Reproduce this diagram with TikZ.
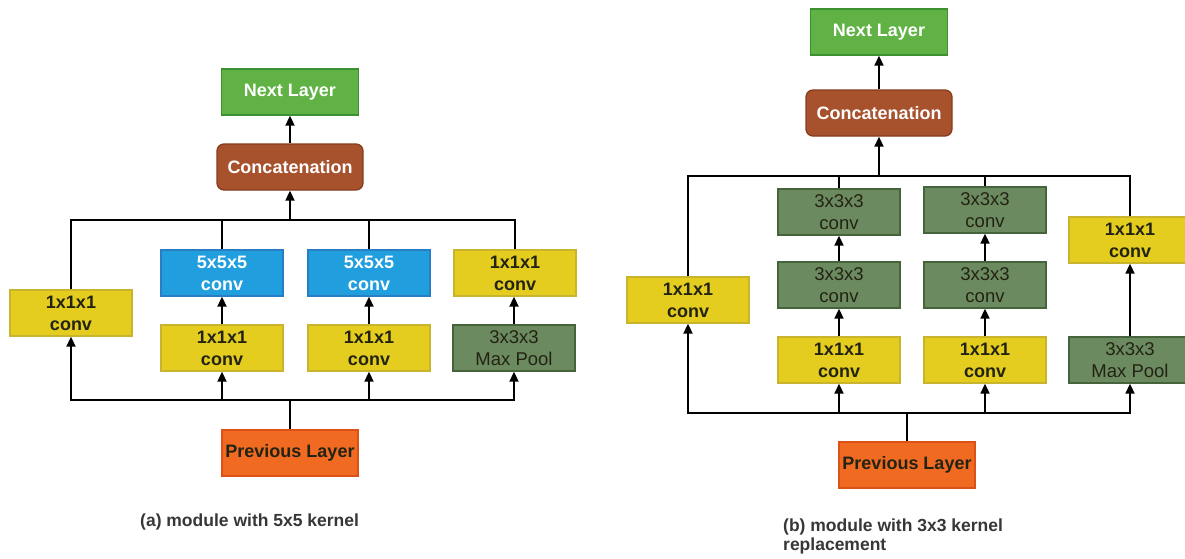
\documentclass[tikz,border=0pt]{standalone}
\usepackage{fontspec}
\setmainfont{Liberation Sans}
\usetikzlibrary{arrows.meta}
\definecolor{yelF}{RGB}{228,205,30}
\definecolor{yelD}{RGB}{200,180,45}
\definecolor{bluF}{RGB}{32,158,222}
\definecolor{bluD}{RGB}{40,125,195}
\definecolor{dgrF}{RGB}{108,138,95}
\definecolor{dgrD}{RGB}{70,100,60}
\definecolor{ngrF}{RGB}{96,178,68}
\definecolor{ngrD}{RGB}{62,145,50}
\definecolor{brnF}{RGB}{168,82,45}
\definecolor{brnD}{RGB}{135,60,30}
\definecolor{orgF}{RGB}{240,106,34}
\definecolor{orgD}{RGB}{220,82,22}
\definecolor{txtD}{RGB}{35,35,20}
\definecolor{capT}{RGB}{55,55,55}
\begin{document}
\begin{tikzpicture}[x=1pt,y=-1pt,
  box/.style={draw, line width=1.3pt, minimum width=122pt, minimum height=46pt, inner sep=0pt, align=center,
    font=\fontsize{18}{22}\selectfont\bfseries},
  yel/.style={box, fill=yelF, draw=yelD, text=txtD},
  blu/.style={box, fill=bluF, draw=bluD, text=white},
  dgr/.style={box, fill=dgrF, draw=dgrD, text=txtD, font=\fontsize{18.5}{22}\selectfont},
  nxt/.style={box, fill=ngrF, draw=ngrD, text=white, minimum width=137pt},
  cat/.style={box, fill=brnF, draw=brnD, text=white, minimum width=146pt, rounded corners=7pt},
  prv/.style={box, fill=orgF, draw=orgD, text=txtD, minimum width=136pt},
  arr/.style={line width=1.8pt, -{Triangle[length=10pt,width=9pt]}},
  wire/.style={line width=1.8pt},
  captxt/.style={text=capT, font=\fontsize{17.5}{19}\selectfont\bfseries, align=left, inner sep=0pt}
]
\clip (0,0) rectangle (1185,558);
\fill[white] (0,0) rectangle (1185,558);

% ---------- (a) ----------
\node[nxt] (nextA) at (290,92) {Next Layer};
\node[cat] (catA) at (290,167) {Concatenation};
\node[yel] (leftA) at (71,313) {1x1x1\\conv};
\node[blu] (fiveA) at (222,273) {5x5x5\\conv};
\node[blu] (fiveB) at (369,273) {5x5x5\\conv};
\node[yel] (oneR) at (515,273) {1x1x1\\conv};
\node[yel] (oneA) at (222,348) {1x1x1\\conv};
\node[yel] (oneB) at (369,348) {1x1x1\\conv};
\node[dgr] (poolA) at (514,348) {3x3x3\\Max Pool};
\node[prv] (prevA) at (290,453) {Previous Layer};
\coordinate (botA) at (290,400);
\coordinate (topA) at (290,220);

\draw[wire] (prevA.north) -- (botA);
\draw[arr] (botA) -| (leftA.south);
\draw[arr] (botA) -| (oneA.south);
\draw[arr] (botA) -| (oneB.south);
\draw[arr] (botA) -| (poolA.south);
\draw[arr] (oneA.north) -- (fiveA.south);
\draw[arr] (oneB.north) -- (fiveB.south);
\draw[arr] (poolA.north) -- (poolA.north |- oneR.south);
\draw[wire] (leftA.north) |- (topA);
\draw[wire] (fiveA.north) |- (topA);
\draw[wire] (fiveB.north) |- (topA);
\draw[wire] (oneR.north) |- (topA);
\draw[arr] (topA) -- (catA.south);
\draw[arr] (catA.north) -- (nextA.south);

\node[captxt, anchor=base west] (capA) at (140,526) {(a) module with 5x5 kernel};

% ---------- (b) ----------
\node[nxt] (nextB) at (879,32) {Next Layer};
\node[cat] (catB) at (879,113) {Concatenation};
\node[yel] (leftB) at (688,300) {1x1x1\\conv};
\node[dgr] (c1t) at (839,212) {3x3x3\\conv};
\node[dgr] (c1m) at (839,285) {3x3x3\\conv};
\node[yel] (c1b) at (839,360) {1x1x1\\conv};
\node[dgr] (c2t) at (985,210) {3x3x3\\conv};
\node[dgr] (c2m) at (985,285) {3x3x3\\conv};
\node[yel] (c2b) at (985,360) {1x1x1\\conv};
\node[yel] (oneRB) at (1130,240) {1x1x1\\conv};
\node[dgr] (poolB) at (1130,360) {3x3x3\\Max Pool};
\node[prv] (prevB) at (907,465) {Previous Layer};
\coordinate (botB) at (907,413);
\coordinate (topB) at (879,176);

\draw[wire] (prevB.north) -- (botB);
\draw[arr] (botB) -| (leftB.south);
\draw[arr] (botB) -| (c1b.south);
\draw[arr] (botB) -| (c2b.south);
\draw[arr] (botB) -| (poolB.south);
\draw[arr] (c1b.north) -- (c1m.south);
\draw[arr] (c1m.north) -- (c1t.south);
\draw[arr] (c2b.north) -- (c2m.south);
\draw[arr] (c2m.north) -- (c2t.south);
\draw[arr] (poolB.north) -- (oneRB.south);
\draw[wire] (leftB.north) |- (topB);
\draw[wire] (c1t.north) |- (topB);
\draw[wire] (c2t.north) |- (topB);
\draw[wire] (oneRB.north) |- (topB);
\draw[arr] (topB) -- (catB.south);
\draw[arr] (catB.north) -- (nextB.south);

\node[captxt, anchor=base west] (capB) at (783,550) {(b) module with 3x3 kernel\\replacement};
\end{tikzpicture}
\end{document}
